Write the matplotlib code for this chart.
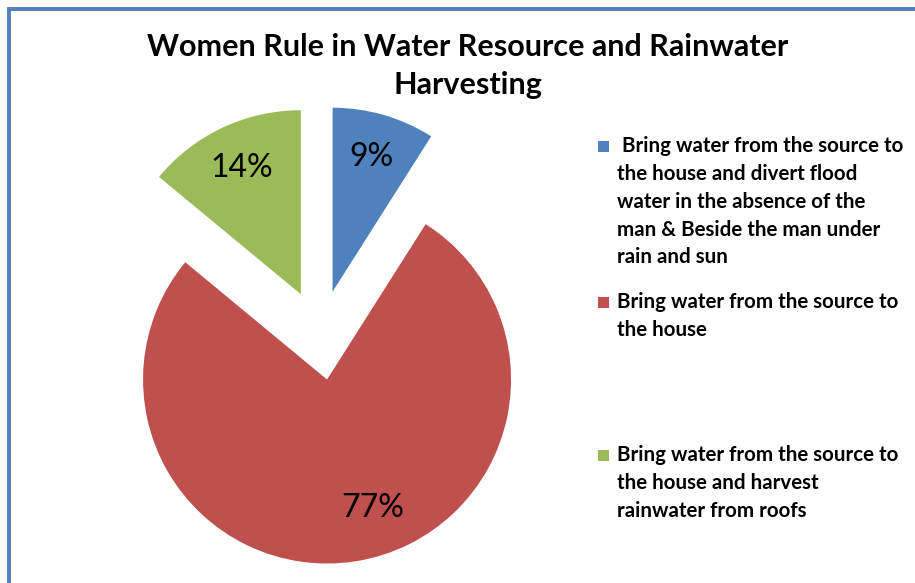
import matplotlib
matplotlib.use('Agg')
import matplotlib.pyplot as plt
from matplotlib.patches import Rectangle

plt.rcParams['font.family'] = ['Lato', 'DejaVu Sans']

# -- data
title   = 'Women Rule in Water Resource and Rainwater\nHarvesting'
labels  = [' Bring water from the source to\nthe house and divert flood\nwater in the absence of the\nman & Beside the man under\nrain and sun',
           'Bring water from the source to\nthe house',
           'Bring water from the source to\nthe house and harvest\nrainwater from roofs']
values  = [9, 77, 14]
colors  = ['#4F81BD', '#C0504D', '#9BBB59']
explode = [0.245, 0.245, 0.245]

W, H = 915, 583
fig = plt.figure(figsize=(W / 100, H / 100), dpi=100)

# chart frame (only top/left edge visible, rest cut off)
fig.patches.append(Rectangle((8.5 / W, -0.1), 1.2, 1 - 8.5 / H + 0.1, transform=fig.transFigure,
                             fill=False, edgecolor='#4F81BD', linewidth=2.8))

# pie axes, 1 data unit = 184 px, centre at (320, 335) px
R  = 184.
cx, cy = 320., 335.
x0, x1 = 100., 540.
y0, y1 = 90., 583.
ax = fig.add_axes([x0 / W, (H - y1) / H, (x1 - x0) / W, (y1 - y0) / H])

wedges, texts, autotexts = ax.pie(values, colors=colors, explode=explode, startangle=90,
                                  counterclock=False, autopct='%d%%', pctdistance=0.76,
                                  wedgeprops=dict(linewidth=0))
ax.set_xlim(-(cx - x0) / R, (x1 - cx) / R)
ax.set_ylim(-(y1 - cy) / R, (cy - y0) / R)
ax.set_aspect('auto')
ax.axis('off')
for t in autotexts:
    t.set_fontsize(23)
    t.set_color('black')
# excel puts the big slice label a bit off the bisector
px, py = autotexts[1].get_position()
autotexts[1].set_position((px + 24 / R, py + 10 / R))

fig.text(468 / W, 1 - 66 / H, title, ha='center', va='center', fontsize=22,
         fontweight='bold', linespacing=1.4)

# legend entries placed like the original layout
ytops = [146, 302, 455]
for lab, col, yt in zip(labels, colors, ytops):
    fig.patches.append(Rectangle((598 / W, 1 - (yt + 6) / H), 11 / W, 11 / H,
                                 transform=fig.transFigure, facecolor=col, edgecolor='none'))
    fig.text(617 / W, 1 - (yt - 10) / H, lab, ha='left', va='top', fontsize=14.8,
             fontweight='bold', linespacing=1.49)

fig.savefig('out.png', dpi=100)
